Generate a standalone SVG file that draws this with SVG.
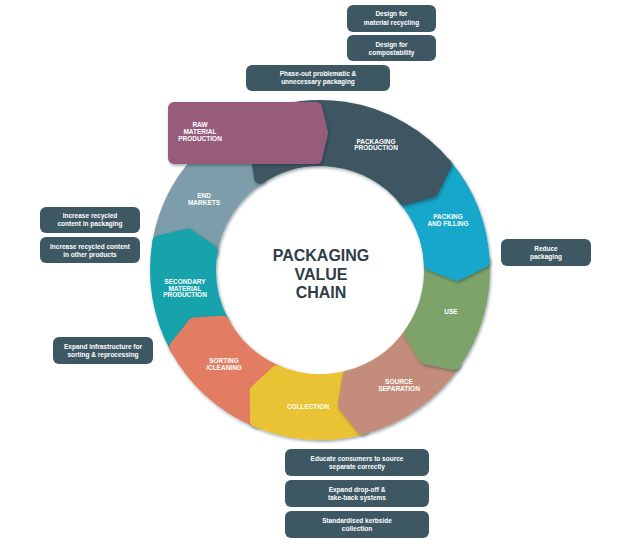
<svg xmlns="http://www.w3.org/2000/svg" width="630" height="544" viewBox="0 0 630 544">
<defs>
<filter id="sh" x="-20%" y="-20%" width="140%" height="140%">
<feDropShadow dx="1" dy="1.5" stdDeviation="1.6" flood-color="#1a2a30" flood-opacity="0.45"/>
</filter>
</defs>
<style>
.seg{stroke-width:12;stroke-linejoin:round;filter:url(#sh)}
.lbl{font-family:"Liberation Sans",Arial,sans-serif;font-weight:bold;font-size:6.5px;fill:#ffffff;text-anchor:middle}
.box rect{fill:#3E5863}
.box text{font-family:"Liberation Sans",Arial,sans-serif;font-weight:bold;font-size:6.5px;fill:#ffffff;text-anchor:middle}
.title{font-family:"Liberation Sans",Arial,sans-serif;font-weight:bold;font-size:16px;fill:#2E3D49;text-anchor:middle}
</style>
<rect width="630" height="544" fill="#ffffff"/>

<g id="end-markets">
<path class="seg" fill="#7B9DA9" stroke="#7B9DA9" d="M158.49,241.53 A164,164 0 0 1 230.69,132.45 L255.68,149.04 L260.09,177.74 A110,110 0 0 0 211.67,250.90 L187.67,234.54 Z"/>
<text class="lbl" x="204" y="198.3">END</text>
<text class="lbl" x="204" y="205">MARKETS</text>
</g>
<g id="secondary-material-production">
<path class="seg" fill="#16A3AC" stroke="#16A3AC" d="M175.20,347.00 A164,164 0 0 1 158.49,241.53 L187.67,234.54 L211.67,250.90 A110,110 0 0 0 222.88,321.65 L193.89,323.53 Z"/>
<text class="lbl" x="185" y="284.3">SECONDARY</text>
<text class="lbl" x="185" y="290.8">MATERIAL</text>
<text class="lbl" x="185" y="297.3">PRODUCTION</text>
</g>
<g id="sorting-cleaning">
<path class="seg" fill="#E27D63" stroke="#E27D63" d="M255.93,420.96 A164,164 0 0 1 175.20,347.00 L193.89,323.53 L222.88,321.65 A110,110 0 0 0 277.02,371.26 L255.68,390.96 Z"/>
<text class="lbl" x="224" y="363.3">SORTING</text>
<text class="lbl" x="224" y="369.6">/CLEANING</text>
</g>
<g id="collection">
<path class="seg" fill="#EAC334" stroke="#EAC334" d="M362.44,428.41 A164,164 0 0 1 255.93,420.96 L255.68,390.96 L277.02,371.26 A110,110 0 0 0 348.47,376.25 L343.78,404.92 Z"/>
<text class="lbl" x="308" y="409.3">COLLECTION</text>
</g>
<g id="source-separation">
<path class="seg" fill="#C48C7A" stroke="#C48C7A" d="M454.35,364.07 A164,164 0 0 1 362.44,428.41 L343.78,404.92 L348.47,376.25 A110,110 0 0 0 410.11,333.10 L424.94,358.06 Z"/>
<text class="lbl" x="399" y="384.3">SOURCE</text>
<text class="lbl" x="399" y="391">SEPARATION</text>
</g>
<g id="use">
<path class="seg" fill="#7DA36B" stroke="#7DA36B" d="M483.77,261.42 A164,164 0 0 1 454.35,364.07 L424.94,358.06 L410.11,333.10 A110,110 0 0 0 429.85,264.25 L456.92,274.78 Z"/>
<text class="lbl" x="451" y="314.3">USE</text>
</g>
<g id="packing-and-filling">
<path class="seg" fill="#17A7CB" stroke="#17A7CB" d="M445.62,164.58 A164,164 0 0 1 483.77,261.42 L456.92,274.78 L429.85,264.25 A110,110 0 0 0 404.26,199.29 L432.23,191.42 Z"/>
<text class="lbl" x="448" y="219.3">PACKING</text>
<text class="lbl" x="448" y="225.6">AND FILLING</text>
</g>
<g id="packaging-production">
<path class="seg" fill="#3D5762" stroke="#3D5762" d="M230.69,132.45 A164,164 0 0 1 445.62,164.58 L432.23,191.42 L404.26,199.29 A110,110 0 0 0 260.09,177.74 L255.68,149.04 Z"/>
<text class="lbl" x="376" y="144">PACKAGING</text>
<text class="lbl" x="376" y="150.2">PRODUCTION</text>
</g>
<g id="raw-material-production">
<path class="seg" fill="#975C7B" stroke="#975C7B" d="M174,108 H316 L322,133 L316,158 H174 Z"/>
<text class="lbl" x="200" y="127.3">RAW</text>
<text class="lbl" x="200" y="134">MATERIAL</text>
<text class="lbl" x="200" y="140.7">PRODUCTION</text>
</g>

<g id="title">
<text class="title" x="321" y="261">PACKAGING</text>
<text class="title" x="321" y="279.5">VALUE</text>
<text class="title" x="321" y="298">CHAIN</text>
</g>

<g id="box-design-recycling" class="box">
<rect x="347" y="5" width="89" height="27" rx="6"/>
<text x="391.5" y="16.3">Design for</text>
<text x="391.5" y="25.3">material recycling</text>
</g>
<g id="box-design-compost" class="box">
<rect x="347" y="35" width="89" height="26" rx="6"/>
<text x="391.5" y="46.6">Design for</text>
<text x="391.5" y="54.6">compostability</text>
</g>
<g id="box-phase-out" class="box">
<rect x="246" y="65" width="144" height="26" rx="6"/>
<text x="318" y="76.3">Phase-out problematic &amp;</text>
<text x="318" y="84.3">unnecessary packaging</text>
</g>
<g id="box-reduce" class="box">
<rect x="501" y="239" width="90" height="27" rx="6"/>
<text x="546" y="250.6">Reduce</text>
<text x="546" y="259">packaging</text>
</g>
<g id="box-recycled-packaging" class="box">
<rect x="40" y="207" width="100" height="26" rx="6"/>
<text x="90" y="218.3">Increase recycled</text>
<text x="90" y="226.3">content in packaging</text>
</g>
<g id="box-recycled-other" class="box">
<rect x="40" y="237" width="100" height="26" rx="6"/>
<text x="90" y="249">Increase recycled content</text>
<text x="90" y="256.6">in other products</text>
</g>
<g id="box-infrastructure" class="box">
<rect x="53" y="337" width="100" height="27" rx="6"/>
<text x="103" y="349">Expand infrastructure for</text>
<text x="103" y="357.3">sorting &amp; reprocessing</text>
</g>
<g id="box-educate" class="box">
<rect x="285" y="449" width="144" height="27" rx="6"/>
<text x="357" y="460.6">Educate consumers to source</text>
<text x="357" y="469">separate correctly</text>
</g>
<g id="box-dropoff" class="box">
<rect x="285" y="480" width="144" height="27" rx="6"/>
<text x="357" y="491.6">Expand drop-off &amp;</text>
<text x="357" y="499.6">take-back systems</text>
</g>
<g id="box-kerbside" class="box">
<rect x="285" y="511" width="144" height="27" rx="6"/>
<text x="357" y="523">Standardised kerbside</text>
<text x="357" y="531.3">collection</text>
</g>
<g id="connectors"></g>
</svg>
